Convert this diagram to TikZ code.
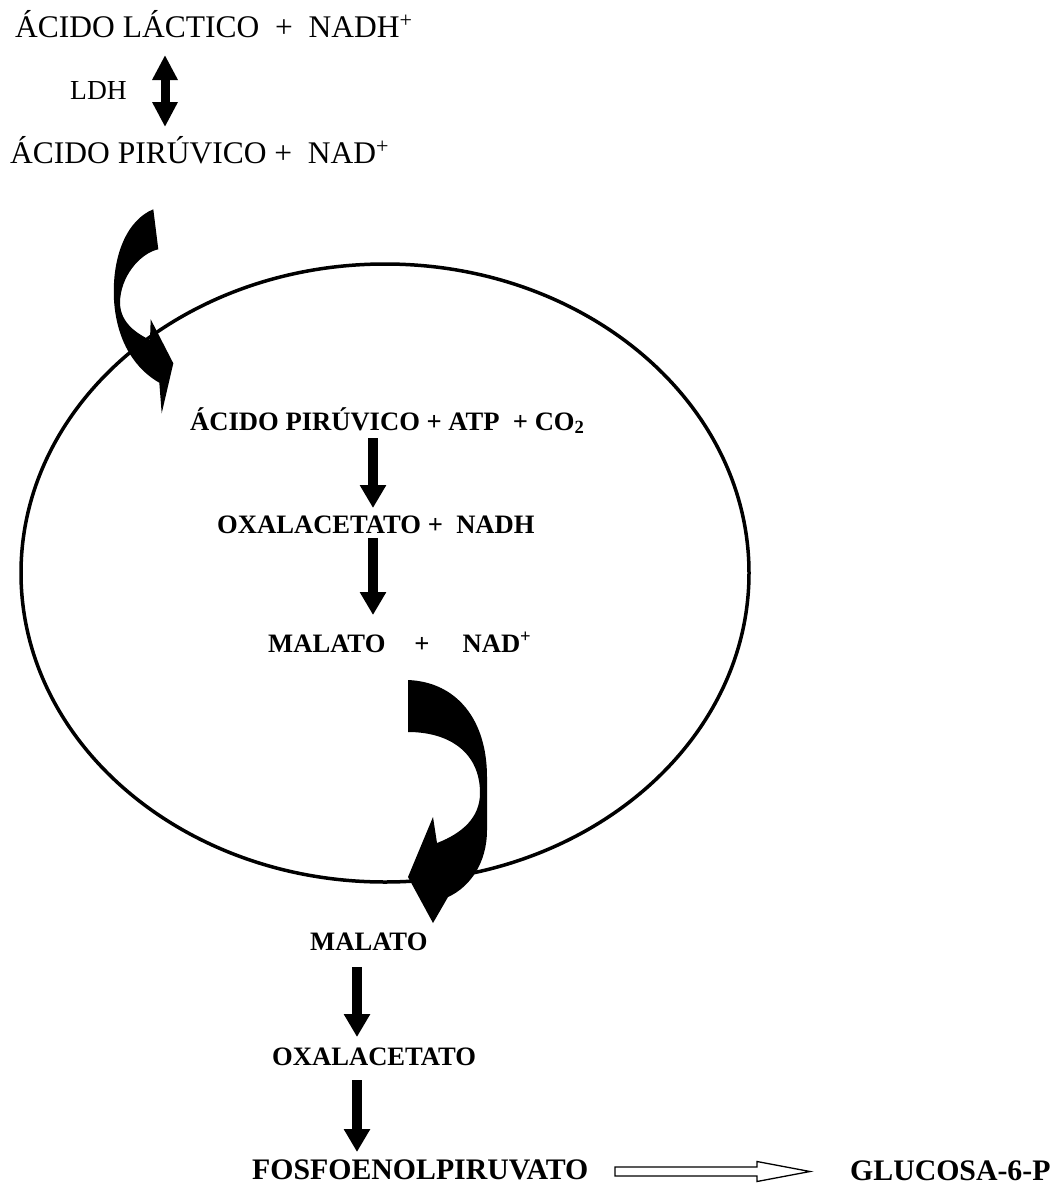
\documentclass[tikz,border=0pt]{standalone}
\usepackage{fontspec}
\setmainfont{Liberation Serif}
\usetikzlibrary{arrows.meta,calc}

\tikzset{
  plaintxt/.style={anchor=base west, inner sep=0pt, font=\fontsize{31.5}{38}\selectfont},
  smalltxt/.style={anchor=base west, inner sep=0pt, font=\fontsize{27.5}{32}\selectfont},
  boldtxt/.style={anchor=base west, inner sep=0pt, font=\fontsize{26.6}{32}\selectfont\bfseries},
  bigbold/.style={anchor=base west, inner sep=0pt, font=\fontsize{29.8}{36}\selectfont\bfseries},
  flow/.style={line width=10pt, -{Triangle[width=25pt,length=23pt]}},
  twoway/.style={line width=9pt, {Triangle[width=24pt,length=25pt]}-{Triangle[width=24pt,length=25pt]}},
  cell/.style={line width=3.5pt},
  bent/.style={fill=black},
  hollow/.style={draw, line width=1.3pt, fill=white, line join=miter},
}

\begin{document}
\begin{tikzpicture}[x=1pt,y=-1pt]
\useasboundingbox (0,0) rectangle (1057,1186);

% cytosolic reaction catalysed by LDH
\node[plaintxt] (lac) at (15,37) {ÁCIDO LÁCTICO~ +~ NADH\textsuperscript{+}};
\node[smalltxt] (ldh) at (70,99) {LDH};
\node[plaintxt] (pir1) at (10,163) {ÁCIDO PIRÚVICO +~ NAD\textsuperscript{+}};
\coordinate (dcol) at (165,0);
\draw[twoway] ($(lac.base -| dcol)+(0,18)$) -- ($(pir1.base -| dcol)+(0,-36)$);

% mitochondrion
\draw[cell] (385,573) ellipse [x radius=364pt, y radius=309pt];

% entry of pyruvate into the mitochondrion
\fill[bent] (153.3,209.3) -- (158.3,249.3)
  .. controls (140,253.3) and (120,276.7) .. (120,303.3)
  .. controls (120.7,323.3) and (136.7,333.3) .. (150,340)
  -- (150.7,319.3) -- (173.3,363.3) -- (161.7,413.3) -- (159.3,382.7)
  .. controls (136.7,370) and (116.7,343.3) .. (114,300)
  .. controls (111.7,256.7) and (126.7,220) .. (153.3,209.3) -- cycle;

% reactions inside the mitochondrion
\node[boldtxt] (pir2) at (190,430) {ÁCIDO PIRÚVICO + ATP~ + CO\textsubscript{2}};
\node[boldtxt] (oxa1) at (217,533) {OXALACETATO +~ NADH};
\node[boldtxt] (mal1) at (268,652) {MALATO\hspace{29pt}+\hspace{33pt}NAD\textsuperscript{+}};
\coordinate (icol) at (373,0);
\draw[flow] ($(pir2.base -| icol)+(0,8)$) -- ($(oxa1.base -| icol)+(0,-25)$);
\draw[flow] ($(oxa1.base -| icol)+(0,5)$) -- ($(mal1.base -| icol)+(0,-37)$);

% exit of malate to the cytosol
\fill[bent] (408,680) .. controls (457,682) and (487,720) .. (487,777)
  -- (487,830)
  .. controls (487,863) and (470,887) .. (448,897)
  -- (433,923) -- (408,877) -- (433,817) -- (437,843)
  .. controls (463,833) and (480,817) .. (480,793)
  .. controls (480,753) and (450,732) .. (408,732) -- cycle;

% cytosolic steps
\node[boldtxt] (mal2) at (310,950) {MALATO};
\node[boldtxt] (oxa2) at (272,1065) {OXALACETATO};
\node[bigbold] (fos) at (252,1179) {FOSFOENOLPIRUVATO};
\node[bigbold] (glu) at (850,1180) {GLUCOSA-6-P};
\coordinate (ocol) at (357,0);
\draw[flow] ($(mal2.base -| ocol)+(0,17)$) -- ($(oxa2.base -| ocol)+(0,-28)$);
\draw[flow] ($(oxa2.base -| ocol)+(0,15)$) -- ($(fos.base -| ocol)+(0,-27)$);

% open block arrow towards glucose-6-phosphate
\coordinate (hs) at (615,1171.5);
\coordinate (he) at (810,1171.5);
\draw[hollow] ($(hs)+(0,-4.5)$) -- ($(he)+(-53,-4.5)$) -- ($(he)+(-53,-10)$)
  -- (he) -- ($(he)+(-53,10)$) -- ($(he)+(-53,4.5)$) -- ($(hs)+(0,4.5)$) -- cycle;
\end{tikzpicture}
\end{document}
